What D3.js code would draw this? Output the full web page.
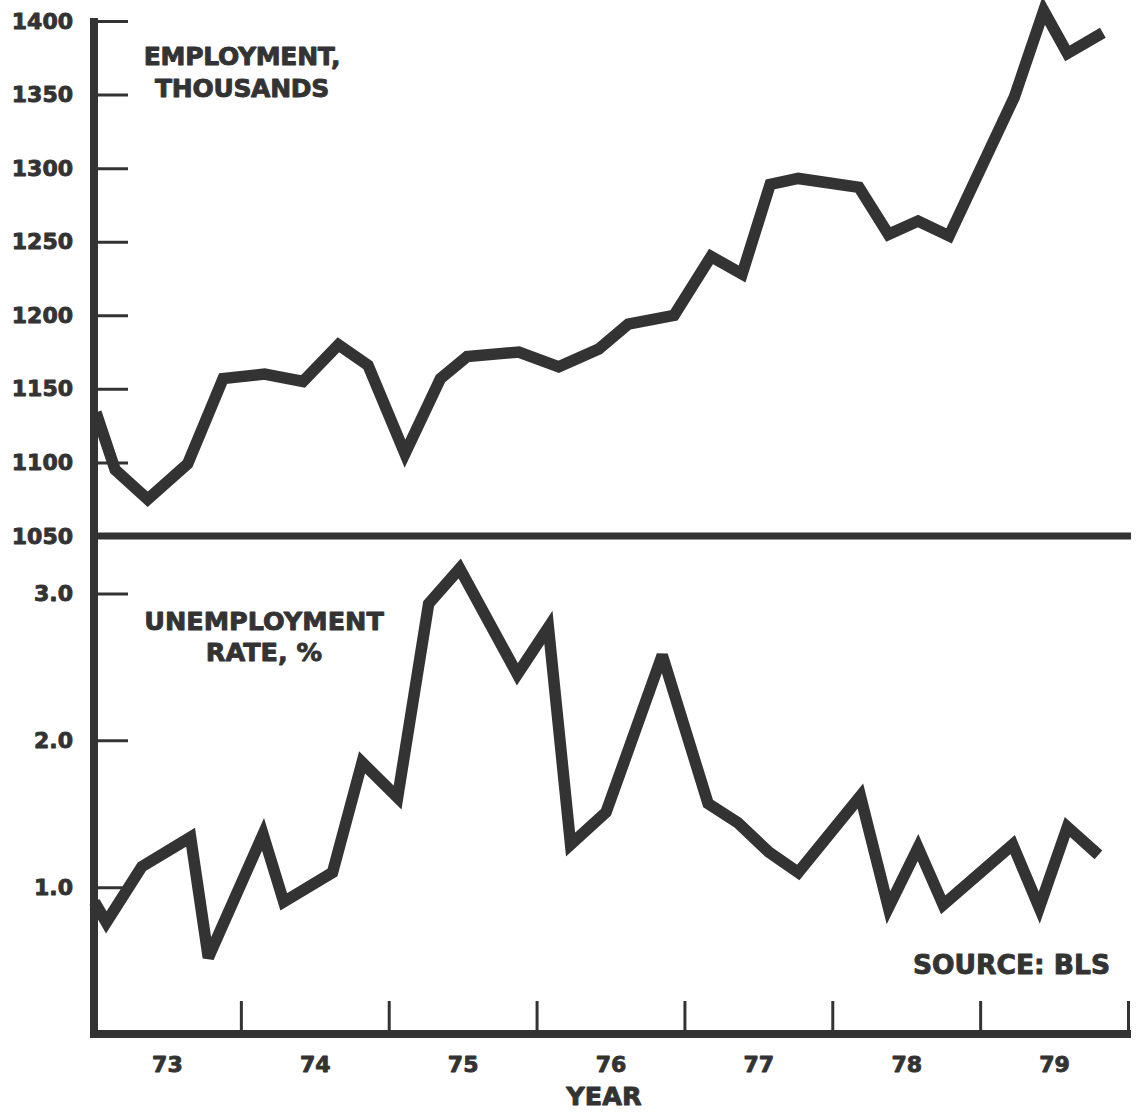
<!DOCTYPE html>
<html>
<head>
<meta charset="utf-8">
<script src="https://cdn.jsdelivr.net/npm/d3@7"></script>
<style>
  html, body { margin: 0; padding: 0; background: #fff; }
  svg { display: block; }
  text { font-family: "DejaVu Sans", sans-serif; font-weight: bold; fill: #333; stroke: #333; stroke-width: 0.9px; stroke-linejoin: round; }
</style>
</head>
<body>
<svg id="chart" width="1137" height="1112"></svg>
<script>
// ---- data ----
const empYears = [1973.02, 1973.15, 1973.37, 1973.64, 1973.88, 1974.16, 1974.42, 1974.66, 1974.86, 1975.11,
                  1975.35, 1975.53, 1975.88, 1976.15, 1976.42, 1976.62, 1976.93, 1977.18, 1977.39, 1977.58,
                  1977.77, 1978.18, 1978.38, 1978.58, 1978.79, 1979.23, 1979.43, 1979.59, 1979.83];
const empValues = [1134, 1095, 1075, 1099, 1157, 1160, 1155, 1180, 1166, 1106,
                   1157, 1172, 1175, 1165, 1177, 1194, 1200, 1240, 1228, 1289,
                   1293, 1287, 1255, 1264, 1254, 1348, 1407, 1378, 1392];

const unYears = [1973.01, 1973.09, 1973.33, 1973.66, 1973.78, 1974.15, 1974.29, 1974.62, 1974.82, 1975.06,
                 1975.27, 1975.48, 1975.87, 1976.08, 1976.23, 1976.47, 1976.85, 1977.16, 1977.36, 1977.57,
                 1977.77, 1978.19, 1978.38, 1978.58, 1978.75, 1979.22, 1979.40, 1979.59, 1979.80];
const unValues = [0.90, 0.76, 1.14, 1.34, 0.52, 1.36, 0.90, 1.10, 1.85, 1.61,
                  2.93, 3.17, 2.45, 2.77, 1.29, 1.51, 2.58, 1.57, 1.44, 1.24,
                  1.10, 1.62, 0.86, 1.27, 0.88, 1.29, 0.86, 1.41, 1.22];

const empTicks = [1050, 1100, 1150, 1200, 1250, 1300, 1350, 1400];
const unTicks = [1.0, 2.0, 3.0];
const yearBoundaries = [1974, 1975, 1976, 1977, 1978, 1979, 1980];
const yearLabels = ["73", "74", "75", "76", "77", "78", "79"];
const yearLabelPos = [1973.5, 1974.5, 1975.5, 1976.5, 1977.5, 1978.5, 1979.5];

const topTitle = ["EMPLOYMENT,", "THOUSANDS"];
const bottomTitle = ["UNEMPLOYMENT", "RATE, %"];
const sourceText = "SOURCE: BLS";
const xTitle = "YEAR";

// ---- layout ----
const ink = "#333";
const svg = d3.select("#chart");

const x = d3.scaleLinear().domain([1973, 1980]).range([93, 1128]);
const yTop = d3.scaleLinear().domain([1050, 1400]).range([536, 21]);
const yBot = d3.scaleLinear().domain([0, 3]).range([1034, 593.5]);

// data lines (drawn first so axes sit on top)
const lineTop = d3.line().x((d, i) => x(empYears[i])).y(d => yTop(d));
const lineBot = d3.line().x((d, i) => x(unYears[i])).y(d => yBot(d));

svg.append("path").datum(empValues).attr("d", lineTop)
  .attr("fill", "none").attr("stroke", ink).attr("stroke-width", 11.5)
  .attr("stroke-linejoin", "miter").attr("stroke-miterlimit", 3);

svg.append("path").datum(unValues).attr("d", lineBot)
  .attr("fill", "none").attr("stroke", ink).attr("stroke-width", 11.5)
  .attr("stroke-linejoin", "miter").attr("stroke-miterlimit", 3);

// left y axes (ticks pointing inward, labels to the left)
function styleAxis(g) {
  g.select(".domain").remove();
  g.selectAll(".tick line").attr("stroke", ink).attr("stroke-width", 3);
  g.selectAll(".tick text").attr("font-size", 22).attr("fill", ink)
    .attr("font-family", "DejaVu Sans").attr("font-weight", "bold");
}

svg.append("g").attr("transform", `translate(${x(1973) + 1},0)`)
  .call(d3.axisLeft(yTop).tickValues(empTicks).tickSizeInner(-34).tickSizeOuter(0).tickPadding(21)
        .tickFormat(d3.format("d")))
  .call(styleAxis);

svg.append("g").attr("transform", `translate(${x(1973) + 1},0)`)
  .call(d3.axisLeft(yBot).tickValues(unTicks).tickSizeInner(-34).tickSizeOuter(0).tickPadding(21)
        .tickFormat(d3.format(".1f")))
  .call(styleAxis);

// x axis: boundary ticks (upward), then year labels at mid-year
svg.append("g").attr("transform", `translate(0,${yBot(0)})`)
  .call(d3.axisBottom(x).tickValues(yearBoundaries).tickSizeInner(-33).tickSizeOuter(0).tickFormat(""))
  .call(g => { g.select(".domain").remove(); g.selectAll(".tick line").attr("stroke", ink).attr("stroke-width", 3); });

svg.append("g").attr("transform", `translate(0,${yBot(0)})`)
  .call(d3.axisBottom(x).tickValues(yearLabelPos).tickSize(0).tickPadding(22)
        .tickFormat((d, i) => yearLabels[i]))
  .call(g => {
    g.select(".domain").remove();
    g.selectAll(".tick text").attr("font-size", 22).attr("fill", ink)
      .attr("font-family", "DejaVu Sans").attr("font-weight", "bold");
  });

// main frame lines
const axisW = 8;
svg.append("line") // left vertical axis
  .attr("x1", x(1973) + 1).attr("x2", x(1973) + 1)
  .attr("y1", yTop(1400) - 3).attr("y2", yBot(0) + 4)
  .attr("stroke", ink).attr("stroke-width", axisW);
svg.append("line") // divider between panels
  .attr("x1", x(1973)).attr("x2", x(1980) + 3)
  .attr("y1", yTop(1050)).attr("y2", yTop(1050))
  .attr("stroke", ink).attr("stroke-width", 7);
svg.append("line") // bottom axis
  .attr("x1", x(1973) - 3).attr("x2", x(1980) + 3)
  .attr("y1", yBot(0)).attr("y2", yBot(0))
  .attr("stroke", ink).attr("stroke-width", axisW);

// titles
const titleX1 = x(1973) + 149;
svg.append("text").attr("x", titleX1).attr("y", 65).attr("text-anchor", "middle")
  .attr("font-size", 25).attr("letter-spacing", -0.3).text(topTitle[0]);
svg.append("text").attr("x", titleX1).attr("y", 97).attr("text-anchor", "middle")
  .attr("font-size", 25).attr("letter-spacing", -0.3).text(topTitle[1]);

const titleX2 = x(1973) + 171;
svg.append("text").attr("x", titleX2).attr("y", 630).attr("text-anchor", "middle")
  .attr("font-size", 25.5).text(bottomTitle[0]);
svg.append("text").attr("x", titleX2).attr("y", 661).attr("text-anchor", "middle")
  .attr("font-size", 25.5).text(bottomTitle[1]);

svg.append("text").attr("x", 1110).attr("y", 974).attr("text-anchor", "end")
  .attr("font-size", 26.5).text(sourceText);

svg.append("text").attr("x", 604).attr("y", 1105).attr("text-anchor", "middle")
  .attr("font-size", 25.5).text(xTitle);
</script>
</body>
</html>
